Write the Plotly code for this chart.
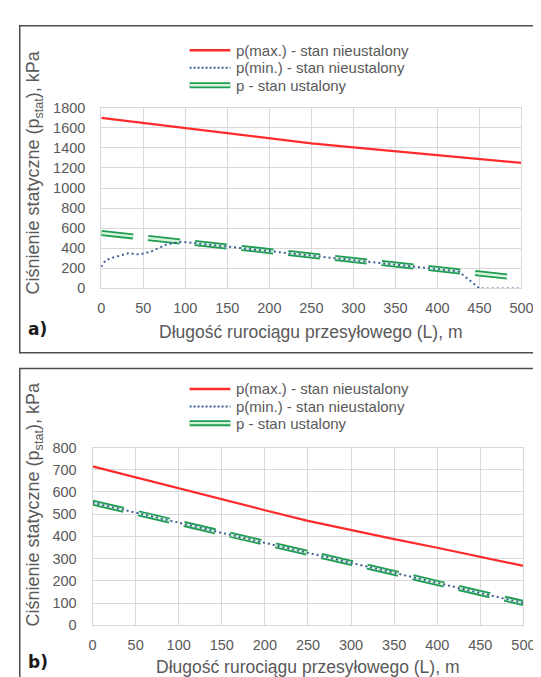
import plotly.graph_objects as go

W, H = 541, 677

# ---------------- data ----------------
dist = [0, 50, 100, 150, 200, 250, 300, 350, 400, 450, 500]
x_ticks = [0, 50, 100, 150, 200, 250, 300, 350, 400, 450, 500]

# panel a)
a_pmax = [1700, 1650, 1598, 1548, 1497, 1445, 1405, 1365, 1325, 1287, 1250]
a_psteady = [552, 508, 461, 416, 372, 328, 283, 238, 193, 148, 104]
a_pmin_dist = [0, 5, 15, 32, 46, 60, 78, 95, 100, 150, 200, 250, 300, 350, 400, 425, 437, 450, 475, 500]
a_pmin = [215, 280, 310, 350, 338, 370, 440, 465, 461, 416, 372, 328, 283, 238, 193, 170, 90, 0, 0, 0]
a_yticks = [0, 200, 400, 600, 800, 1000, 1200, 1400, 1600, 1800]

# panel b)
b_pmax = [715, 665, 617, 567, 518, 470, 428, 388, 349, 308, 267]
b_psteady = [552, 508, 462, 416, 372, 326, 281, 236, 190, 146, 100]
b_pmin = [552, 508, 462, 416, 372, 326, 281, 236, 190, 146, 100]
b_yticks = [0, 100, 200, 300, 400, 500, 600, 700, 800]

names = ["p(max.) - stan nieustalony", "p(min.) - stan nieustalony", "p - stan ustalony"]
x_title = "Długość rurociągu przesyłowego (L), m"
y_title = "Ciśnienie statyczne (p<sub>stat</sub>), kPa"

# ---------------- style ----------------
RED = "#ff2b2b"
BLUE = "#3d5f94"
GREEN = "#1f9d52"
GREEN_IN = "#d6f3dc"
GRID = "#d9d9d9"
TXT = "#595959"
FONT = "Liberation Sans"
DASH = "32px,15px"


def px(x):
    return x / W


def py(y):
    return 1 - y / H


fig = go.Figure()


def add_panel(xa, ya, pmax, psteady, pmin_x, pmin):
    fig.add_trace(go.Scatter(x=dist, y=psteady, mode="lines", name=names[2],
                             line=dict(color=GREEN, width=6, dash=DASH),
                             xaxis=xa, yaxis=ya, showlegend=False))
    fig.add_trace(go.Scatter(x=dist, y=psteady, mode="lines", name=names[2],
                             line=dict(color=GREEN_IN, width=2.4, dash=DASH),
                             xaxis=xa, yaxis=ya, showlegend=False, hoverinfo="skip"))
    fig.add_trace(go.Scatter(x=pmin_x, y=pmin, mode="lines", name=names[1],
                             line=dict(color=BLUE, width=2, dash="2px,3px"),
                             xaxis=xa, yaxis=ya, showlegend=False))
    fig.add_trace(go.Scatter(x=dist, y=pmax, mode="lines", name=names[0],
                             line=dict(color=RED, width=2.2),
                             xaxis=xa, yaxis=ya, showlegend=False))


add_panel("x", "y", a_pmax, a_psteady, a_pmin_dist, a_pmin)
add_panel("x2", "y2", b_pmax, b_psteady, dist, b_pmin)

axis_common = dict(showgrid=True, gridcolor=GRID, gridwidth=1, zeroline=False,
                   showline=True, linecolor=GRID, linewidth=1, mirror=True,
                   ticks="outside", tickcolor="rgba(0,0,0,0)",
                   tickfont=dict(family=FONT, size=14.5, color=TXT))

fig.update_layout(
    width=W, height=H,
    margin=dict(l=0, r=0, t=0, b=0),
    paper_bgcolor="white", plot_bgcolor="white",
    showlegend=False,
    xaxis=dict(domain=[px(92), px(525)], range=[0, 500], tickvals=x_ticks, anchor="y",
               ticklen=6, **axis_common),
    yaxis=dict(domain=[py(279), py(94)], range=[0, 1800], tickvals=a_yticks, anchor="x",
               ticklen=12, **axis_common),
    xaxis2=dict(domain=[px(83), px(527)], range=[0, 500], tickvals=x_ticks, anchor="y2",
                ticklen=6, **axis_common),
    yaxis2=dict(domain=[py(624), py(442)], range=[0, 800], tickvals=b_yticks, anchor="x2",
                ticklen=12, **axis_common),
)

# panel frames
fig.add_shape(type="rect", xref="paper", yref="paper", x0=px(8), x1=px(545), y0=py(345), y1=py(10),
              line=dict(color="#4d4d4d", width=1.5), layer="below")
fig.add_shape(type="rect", xref="paper", yref="paper", x0=px(8), x1=px(545), y0=py(690), y1=py(361),
              line=dict(color="#4d4d4d", width=1.5), layer="below")

# legends (key samples + labels)
leg_font = dict(family=FONT, size=15, color=TXT)


def add_legend(rows):
    styles = [
        [dict(color=RED, width=2.5)],
        [dict(color=BLUE, width=2, dash="2px,2px")],
        [dict(color=GREEN, width=6), dict(color=GREEN_IN, width=2.4)],
    ]
    for name, yy, st in zip(names, rows, styles):
        for s in st:
            fig.add_shape(type="line", xref="paper", yref="paper", x0=px(183), x1=px(225),
                          y0=py(yy), y1=py(yy), line=s)
        fig.add_annotation(text=name, xref="paper", yref="paper", x=px(229), y=py(yy),
                           showarrow=False, font=leg_font, xanchor="left", yanchor="middle")


add_legend([35, 53, 71])
add_legend([382, 400, 417])

title_font = dict(family=FONT, size=17.5, color=TXT)
# axis titles
fig.add_annotation(text=x_title, xref="paper", yref="paper", x=px(308), y=py(324),
                   showarrow=False, font=title_font, xanchor="center", yanchor="middle")
fig.add_annotation(text=x_title, xref="paper", yref="paper", x=px(305), y=py(667),
                   showarrow=False, font=title_font, xanchor="center", yanchor="middle")
fig.add_annotation(text=y_title, xref="paper", yref="paper", x=px(23), y=py(160), textangle=-90,
                   showarrow=False, font=dict(family=FONT, size=18, color=TXT),
                   xanchor="center", yanchor="middle")
fig.add_annotation(text=y_title, xref="paper", yref="paper", x=px(23), y=py(500), textangle=-90,
                   showarrow=False, font=dict(family=FONT, size=18, color=TXT),
                   xanchor="center", yanchor="middle")
# panel labels
lab_font = dict(family="DejaVu Sans", size=17, color="#1a1a1a")
fig.add_annotation(text="<b>a)</b>", xref="paper", yref="paper", x=px(14), y=py(321),
                   showarrow=False, font=lab_font, xanchor="left", yanchor="middle")
fig.add_annotation(text="<b>b)</b>", xref="paper", yref="paper", x=px(14), y=py(662),
                   showarrow=False, font=lab_font, xanchor="left", yanchor="middle")

fig.write_html("out.html")
